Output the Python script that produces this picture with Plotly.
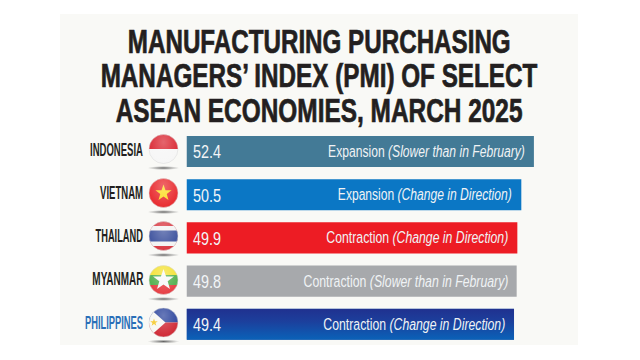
import base64
import json
import math
import plotly.graph_objects as go

countries = ["INDONESIA", "VIETNAM", "THAILAND", "MYANMAR", "PHILIPPINES"]
values = [52.4, 50.5, 49.9, 49.8, 49.4]
status = ["Expansion", "Expansion", "Contraction", "Contraction", "Contraction"]
notes = ["(Slower than in February)", "(Change in Direction)", "(Change in Direction)",
         "(Slower than in February)", "(Change in Direction)"]
bar_colors = ["#437a96", "#0b77c5", "#ed1c24", "#a7a9ac", "#174a9f"]
label_colors = ["#231f20", "#231f20", "#231f20", "#231f20", "#2a6fb8"]
title_lines = ["MANUFACTURING PURCHASING", "MANAGERS’ INDEX (PMI) OF SELECT", "ASEAN ECONOMIES, MARCH 2025"]

W, H = 640, 360
BAR_LEFT = 186.5
PX_PER_UNIT = 6.63
PITCH = 43.2
FIRST_Y = 151.5
SANS = "Liberation Sans, Arial, sans-serif"

FLAG_CENTERS = [149, 193, 236, 280, 322.5]
TITLE_WIDTHS = [383, 437, 407]
COUNTRY_WIDTHS = [53, 43, 47.5, 51, 58]
VALUE_WIDTHS = [28, 28, 28, 28, 28]
NOTE_WIDTHS = [197, 174, 182, 205, 182]


def flag_svg(body):
    s = f'''<svg xmlns="http://www.w3.org/2000/svg" viewBox="0 0 36 46" width="36" height="46">
<defs><clipPath id="c"><circle cx="18" cy="16" r="14.5"/></clipPath>
<radialGradient id="g" cx="50%" cy="20%" r="85%"><stop offset="0" stop-color="#fff" stop-opacity=".3"/>
<stop offset=".6" stop-color="#fff" stop-opacity="0"/><stop offset="1" stop-color="#000" stop-opacity=".28"/></radialGradient>
<radialGradient id="s"><stop offset="0" stop-color="#555" stop-opacity=".9"/><stop offset="1" stop-color="#777" stop-opacity="0"/></radialGradient></defs>
<ellipse cx="18" cy="35" rx="16" ry="2" fill="url(#s)"/>
<g clip-path="url(#c)">{body}<rect width="36" height="46" fill="url(#g)"/></g>
<circle cx="18" cy="16" r="14.5" fill="none" stroke="#d8d8d8" stroke-width=".5"/></svg>'''
    return "data:image/svg+xml;base64," + base64.b64encode(s.encode()).decode()


def star(cx, cy, r, fill):
    pts = []
    for i in range(10):
        a = -math.pi / 2 + i * math.pi / 5
        q = r if i % 2 == 0 else r * 0.4
        pts.append(f"{cx + q * math.cos(a):.2f},{cy + q * math.sin(a):.2f}")
    return f'<polygon points="{" ".join(pts)}" fill="{fill}"/>'


flags = [
    '<rect width="36" height="16" fill="#d9232e"/><rect y="16" width="36" height="30" fill="#f6f6f6"/>',
    '<rect width="36" height="46" fill="#e8262a"/>' + star(18, 16, 8.5, "#fcdc1e"),
    '<rect width="36" height="46" fill="#d8323c"/><rect y="6" width="36" height="20" fill="#f2f2f2"/>'
    '<rect y="10.5" width="36" height="11" fill="#3a4f9c"/>',
    '<rect width="36" height="11" fill="#f4e12d"/><rect y="11" width="36" height="10" fill="#4fae4a"/>'
    '<rect y="21" width="36" height="25" fill="#e63a3f"/>' + star(18, 16, 11, "#f8f8f8"),
    '<rect width="36" height="16" fill="#27409a"/><rect y="16" width="36" height="30" fill="#cf2430"/>'
    '<polygon points="2,0 20,16 2,32" fill="#f7f7f2"/>' + star(8.5, 16, 4, "#f5c92a"),
]

GRADIENT = ('<svg xmlns="http://www.w3.org/2000/svg" viewBox="0 0 10 10" preserveAspectRatio="none">'
            '<defs><linearGradient id="b" x1="0" y1="0" x2="0" y2="1"><stop offset="0" stop-color="#20318f"/>'
            '<stop offset=".4" stop-color="#1c3f9c"/><stop offset="1" stop-color="#0a62b8"/></linearGradient></defs>'
            '<rect width="10" height="10" fill="url(#b)"/></svg>')

fig = go.Figure(go.Bar(
    x=values, y=list(range(len(values))), orientation="h", width=0.72,
    marker=dict(color=bar_colors, line=dict(width=0)), hoverinfo="skip",
))

images = []
for cy, body in zip(FLAG_CENTERS, flags):
    images.append(dict(source=flag_svg(body), xref="paper", yref="paper",
                       x=(163.5 - 18) / W, y=1 - (cy - 16) / H, sizex=36 / W, sizey=46 / H,
                       xanchor="left", yanchor="top", sizing="stretch", layer="above"))
last = len(values) - 1
images.append(dict(source="data:image/svg+xml;base64," + base64.b64encode(GRADIENT.encode()).decode(),
                   xref="x", yref="y", x=0, y=last - 0.36, sizex=values[last], sizey=0.72,
                   xanchor="left", yanchor="top", sizing="stretch", layer="above"))

ann = []
fit = []  # [target width px, anchor 0=left .5=centre 1=right, stroke], one per annotation
for i, line in enumerate(title_lines):
    ann.append(dict(text=f"<b>{line}</b>", xref="paper", yref="paper", x=319 / W, y=1 - (41 + i * 34.7) / H,
                    xanchor="center", yanchor="middle", showarrow=False,
                    font=dict(family=SANS, size=33, color="#231f20")))
    fit.append([TITLE_WIDTHS[i], 0.5, 0.7])
for i, (c, v, st, n) in enumerate(zip(countries, values, status, notes)):
    ann.append(dict(text=f"<b>{c}</b>", xref="paper", yref="y", x=145 / W, y=i - 0.04, xanchor="right",
                    yanchor="middle", showarrow=False, font=dict(family=SANS, size=18, color=label_colors[i])))
    fit.append([COUNTRY_WIDTHS[i], 1, 0])
    ann.append(dict(text=f"{v:.1f}", xref="x", yref="y", x=0, xshift=4.5, y=i + 0.02, xanchor="left",
                    yanchor="middle", showarrow=False, font=dict(family=SANS, size=18, color="#f2f5f7")))
    fit.append([VALUE_WIDTHS[i], 0, 0])
    ann.append(dict(text=f"{st} <i>{n}</i>", xref="x", yref="y", x=v, xshift=-7, y=i, xanchor="right",
                    yanchor="middle", showarrow=False, font=dict(family=SANS, size=17, color="#f0f3f5")))
    fit.append([NOTE_WIDTHS[i], 1, 0])

fig.update_layout(
    width=W, height=H, autosize=False, margin=dict(l=0, r=0, t=0, b=0),
    paper_bgcolor="#ffffff", plot_bgcolor="rgba(0,0,0,0)", showlegend=False,
    xaxis=dict(domain=[BAR_LEFT / W, 1], range=[0, (W - BAR_LEFT) / PX_PER_UNIT], visible=False, fixedrange=True),
    yaxis=dict(domain=[0, 1], range=[(H - FIRST_Y) / PITCH, -FIRST_Y / PITCH], visible=False, fixedrange=True),
    shapes=[dict(type="rect", xref="paper", yref="paper", x0=60 / W, x1=578 / W, y0=1 - 345 / H, y1=1 - 14 / H,
                 fillcolor="#f9f9f6", line=dict(width=0), layer="below")],
    images=images, annotations=ann,
)

# The reference face is a condensed one that is not installed: squeeze the real text to its measured width.
post = """
document.documentElement.style.margin='0';document.body.style.margin='0';document.body.style.overflow='hidden';
var fit=%s;
document.querySelectorAll('.annotation').forEach(function(a){
  var f=fit[+a.getAttribute('data-index')], t=a.querySelector('.annotation-text');
  if(!f||!t)return;
  var b=t.getBBox(), s=f[0]/b.width, o=b.x+b.width*f[1], old=t.getAttribute('transform')||'';
  t.setAttribute('transform',old+' translate('+o+',0) scale('+s+',1) translate('+(-o)+',0)');
  if(f[2]){t.style.stroke='#231f20';t.style.strokeWidth=f[2]+'px';}
});
""" % json.dumps(fit)
fig.write_html("out.html", config={"displayModeBar": False}, post_script=post)
